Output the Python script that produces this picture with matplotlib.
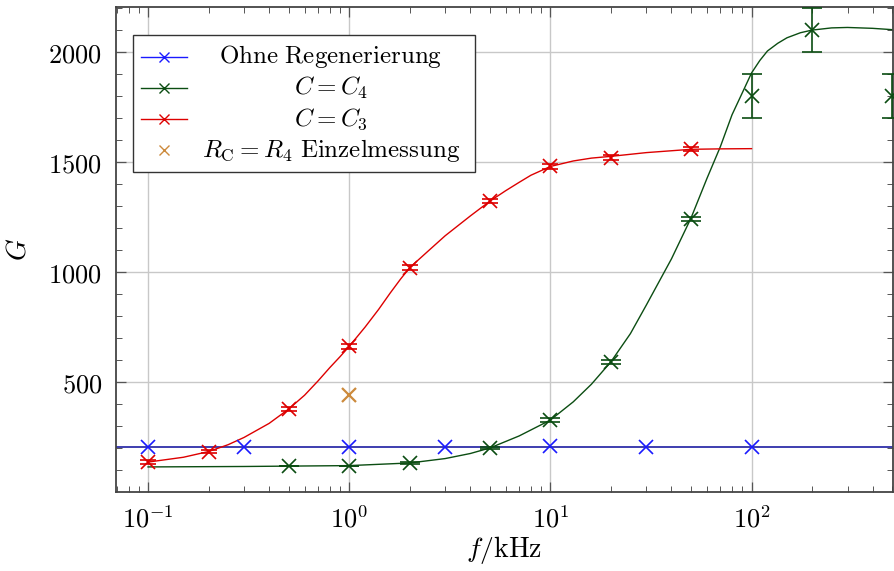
import matplotlib
matplotlib.use("Agg")
import matplotlib.pyplot as plt
from matplotlib.lines import Line2D
from matplotlib.patches import Rectangle
from matplotlib.ticker import FixedLocator, FixedFormatter, NullFormatter

plt.rcParams['mathtext.fontset'] = 'cm'
plt.rcParams['font.family'] = ['DejaVu Serif']

# ---- data ----
f_blue = [0.1, 0.3, 1, 3, 10, 30, 100]
G_blue = [205, 205, 205, 205, 207, 206, 204]
G_blue_level = 205

f_green = [0.5, 1, 2, 5, 10, 20, 50, 100, 200, 500]
G_green = [118, 118, 132, 200, 327, 592, 1242, 1800, 2100, 1800]
err_green = [0, 0, 6, 6, 10, 10, 10, 100, 100, 100]
f_green_fit = [0.1, 0.3, 1, 2, 3, 4, 5, 7, 10, 13, 16, 20, 25, 30, 40, 50, 60, 70,
               80, 90, 100, 110, 120, 135, 150, 175, 200, 250, 300, 400, 500]
G_green_fit = [114, 116, 120, 132, 152, 175, 200, 255, 327, 410, 490, 592, 720, 850, 1060,
               1245, 1425, 1570, 1715, 1815, 1905, 1962, 2005, 2040, 2065, 2088, 2100,
               2110, 2112, 2108, 2102]

f_red = [0.1, 0.2, 0.5, 1, 2, 5, 10, 20, 50]
G_red = [136, 184, 377, 662, 1020, 1322, 1480, 1520, 1560]
err_red = [8, 8, 10, 10, 10, 10, 10, 10, 10]
f_red_fit = [0.1, 0.15, 0.2, 0.25, 0.3, 0.4, 0.5, 0.6, 0.7, 0.8, 0.9, 1, 1.2, 1.4, 1.6,
             1.8, 2, 2.5, 3, 4, 5, 6, 7, 8, 10, 13, 16, 20, 30, 50, 70, 100]
G_red_fit = [136, 158, 184, 215, 248, 312, 377, 440, 505, 565, 615, 662, 750, 830, 905,
             968, 1020, 1100, 1165, 1255, 1322, 1370, 1408, 1440, 1480, 1505, 1518, 1526,
             1543, 1558, 1560, 1561]

f_orange = [1]
G_orange = [442]

labels = [r"$\mathrm{Ohne\ Regenerierung}$", r"$C = C_4$", r"$C = C_3$",
          r"$R_\mathrm{C} = R_4\ \mathrm{Einzelmessung}$"]

x_ticks = [0.1, 1, 10, 100]
x_ticklabels = [r"$10^{-1}$", r"$10^{0}$", r"$10^{1}$", r"$10^{2}$"]
y_ticks = [500, 1000, 1500, 2000]
y_ticklabels = [r"$500$", r"$1000$", r"$1500$", r"$2000$"]

# ---- style ----
c_blue_m = '#1a1aff'
c_blue_l = '#0a0a9a'
c_green = '#0b4d12'
c_red = '#dd0000'
c_orange = '#cc8a3c'

W, H = 895, 571
fig = plt.figure(figsize=(W / 100, H / 100), dpi=100)
ax = fig.add_axes([116 / W, (H - 492) / H, 777 / W, 485 / H])
ax.set_xscale('log')
ax.set_xlim(0.0693, 505)
ax.set_ylim(0, 2205)

ax.grid(True, which='major', color='#c8c8c8', lw=1.0, zorder=0)
ax.set_axisbelow(True)

# blue: constant line across full axis
ax.axhline(G_blue_level, color=c_blue_l, lw=1.1, zorder=2)
ax.plot(f_blue, G_blue, ls='none', marker='x', ms=10, mew=1.2, color=c_blue_m, zorder=3)

# green
ax.plot(f_green_fit, G_green_fit, color=c_green, lw=1.0, zorder=2)
ax.errorbar(f_green, G_green, yerr=err_green, fmt='x', ms=10, mew=1.2, color=c_green,
            ecolor=c_green, elinewidth=1.2, capsize=7, capthick=1.0, zorder=3)

# red
ax.plot(f_red_fit, G_red_fit, color=c_red, lw=1.0, zorder=2)
ax.errorbar(f_red, G_red, yerr=err_red, fmt='x', ms=10, mew=1.2, color=c_red,
            ecolor=c_red, elinewidth=1.2, capsize=6, capthick=1.0, zorder=3)

# orange
ax.plot(f_orange, G_orange, ls='none', marker='x', ms=10, mew=1.6, color=c_orange, zorder=3)

# ticks
ax.xaxis.set_major_locator(FixedLocator(x_ticks))
ax.xaxis.set_major_formatter(FixedFormatter(x_ticklabels))
ax.xaxis.set_minor_formatter(NullFormatter())
ax.yaxis.set_major_locator(FixedLocator(y_ticks))
ax.yaxis.set_major_formatter(FixedFormatter(y_ticklabels))
ax.yaxis.set_minor_locator(FixedLocator([v for v in range(100, 2201, 100) if v % 500]))
ax.tick_params(which='both', direction='in', top=True, right=True, labelsize=19, color='#555555')
ax.tick_params(which='major', length=7, width=0.9)
ax.tick_params(which='minor', length=4, width=0.7)
ax.tick_params(axis='x', pad=10)
ax.tick_params(axis='y', pad=10)
for s in ax.spines.values():
    s.set_color('#444444')
    s.set_linewidth(1.3)

ax.set_xlabel(r"$f/\mathrm{kHz}$", fontsize=20, labelpad=1)
ax.set_ylabel(r"$G$", fontsize=20, labelpad=12)

# legend drawn manually (centered text like pgfplots)
tr = ax.transAxes
def ax_pt(px, py):
    return ((px - 116) / 777, (492 - py) / 485)

x0, y0 = ax_pt(133, 172)
x1, y1 = ax_pt(475, 35)
ax.add_patch(Rectangle((x0, y0), x1 - x0, y1 - y0, transform=tr, facecolor='white',
                       edgecolor='#333333', lw=1.0, zorder=10))
rows = [57, 88, 119, 150]
colors = [c_blue_m, c_green, c_red, c_orange]
for i, (lab, col) in enumerate(zip(labels, colors)):
    ya = ax_pt(0, rows[i])[1]
    xa0 = ax_pt(141, 0)[0]
    xa1 = ax_pt(187, 0)[0]
    xm = ax_pt(164, 0)[0]
    if i < 3:
        ax.add_line(Line2D([xa0, xa1], [ya, ya], transform=tr, color=col, lw=1.0, zorder=11))
    ax.add_line(Line2D([xm], [ya], transform=tr, color=col, marker='x', ms=7, mew=1.0, zorder=11))
    xt = ax_pt(331, 0)[0]
    ax.text(xt, ya, lab, transform=tr, ha='center', va='center', fontsize=18, zorder=12)

fig.savefig("out.png", dpi=100)
